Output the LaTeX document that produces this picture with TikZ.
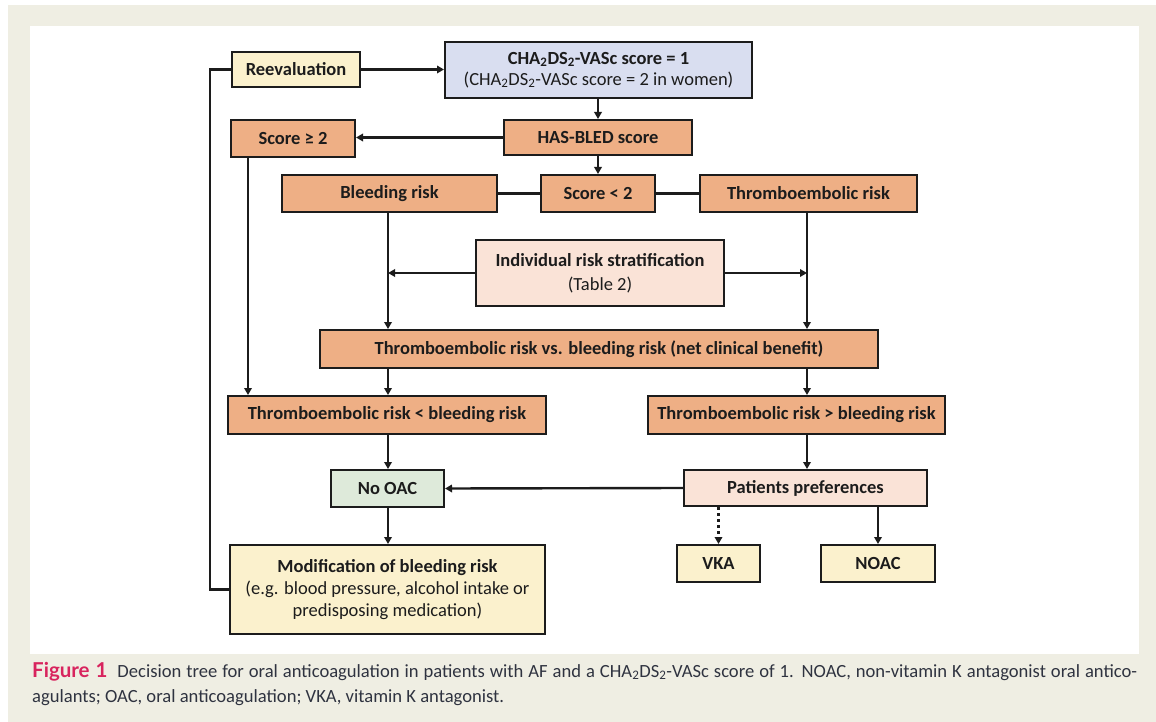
\documentclass[tikz,border=0pt]{standalone}
\usepackage{fontspec}
\setmainfont{Carlito}
\newfontfamily\capfont{Carlito}
\newfontfamily\figfont{Lato}
\usetikzlibrary{arrows.meta}
\definecolor{pagebg}{HTML}{EFEEE3}
\definecolor{orangebox}{HTML}{EEAF85}
\definecolor{yellowbox}{HTML}{FBF1CD}
\definecolor{bluebox}{HTML}{D9DEF0}
\definecolor{peachbox}{HTML}{FAE3D7}
\definecolor{greenbox}{HTML}{DEEADA}
\definecolor{inkdark}{HTML}{1C1C1C}
\definecolor{captext}{HTML}{2F3340}
\definecolor{capred}{HTML}{D8245E}
\begin{document}
\begin{tikzpicture}[x=1pt,y=-1pt,
  box/.style={draw=inkdark, line width=2pt, inner sep=0pt, align=center,
    font=\fontsize{18.5}{22}\selectfont\bfseries, text=inkdark},
  orange/.style={box, fill=orangebox},
  conn/.style={draw=inkdark, line width=2.4pt},
  arr/.style={conn, -{Triangle[length=7pt,width=7.5pt]}},
  dotarr/.style={arr, dash pattern=on 3pt off 3pt},
  captxt/.style={anchor=base west, inner sep=0pt, text=captext,
    font=\capfont\fontsize{18.6}{23}\selectfont}
]
% page and panel backgrounds
\fill[white] (0,0) rectangle (1156,722);
\fill[pagebg] (8,5) rectangle (1156,722);
\fill[white] (30,26) rectangle (1139,654);
\useasboundingbox (0,0) rectangle (1156,722);

% boxes
\node[box, fill=yellowbox, minimum width=128pt, minimum height=35pt] (reeval) at (296,69.5) {Reevaluation};
\node[box, fill=bluebox, minimum width=307pt, minimum height=56pt] (cha) at (598.5,70)
  {CHA\textsubscript{2}DS\textsubscript{2}-VASc score = 1\\[-1pt]
   \mdseries(CHA\textsubscript{2}DS\textsubscript{2}-VASc score = 2 in women)};
\node[orange, minimum width=188pt, minimum height=35pt] (hasbled) at (598,137.5) {HAS-BLED score};
\node[orange, minimum width=124pt, minimum height=37pt] (sge) at (293,138.5) {Score ≥ 2};
\node[orange, minimum width=114pt, minimum height=37pt] (slt) at (598,193.5) {Score < 2};
\node[orange, minimum width=215pt, minimum height=37pt] (bleed) at (389.5,193.5) {Bleeding risk};
\node[orange, minimum width=217pt, minimum height=37pt] (thrombo) at (808.5,193.5) {Thromboembolic risk};
\node[box, fill=peachbox, minimum width=248pt, minimum height=66pt] (indiv) at (600,273)
  {Individual risk stratification\\[2pt] \mdseries(Table 2)};
\node[orange, minimum width=558pt, minimum height=38pt] (net) at (599,349)
  {Thromboembolic risk vs. bleeding risk (net clinical benefit)};
\node[orange, minimum width=318pt, minimum height=38pt] (tlt) at (387,415)
  {Thromboembolic risk < bleeding risk};
\node[orange, minimum width=297pt, minimum height=38pt] (tgt) at (796.5,415)
  {Thromboembolic risk > bleeding risk};
\node[box, fill=greenbox, minimum width=113pt, minimum height=37pt] (nooac) at (387.5,488.5) {No OAC};
\node[box, fill=peachbox, minimum width=243pt, minimum height=36pt] (pref) at (805.5,488) {Patients preferences};
\node[box, fill=yellowbox, minimum width=315pt, minimum height=89pt] (modif) at (387.5,589.5)
  {Modification of bleeding risk\\[0pt]
   \mdseries(e.g. blood pressure, alcohol intake or\\[0pt]
   \mdseries predisposing medication)};
\node[box, fill=yellowbox, minimum width=83pt, minimum height=37pt] (vka) at (718.5,563.5) {VKA};
\node[box, fill=yellowbox, minimum width=114pt, minimum height=37pt] (noac) at (878,563.5) {NOAC};

% connectors
\draw[arr] (reeval.east) -- (cha.west |- reeval.east);
\draw[arr] (cha.south -| hasbled.north) -- (hasbled.north);
\draw[arr] (hasbled.west) -- (sge.east |- hasbled.west);
\draw[arr] (hasbled.south) -- (slt.north);
\draw[conn] (slt.west) -- (bleed.east);
\draw[conn] (slt.east) -- (thrombo.west);
\coordinate (bx) at (388,0);
\coordinate (tx) at (807,0);
\coordinate (sx) at (248,0);
\draw[arr] (bleed.south -| bx) -- (net.north -| bx);
\draw[arr] (thrombo.south -| tx) -- (net.north -| tx);
\draw[arr] (indiv.west) -- (indiv.west -| bx);
\draw[arr] (indiv.east) -- (indiv.east -| tx);
\draw[arr] (sge.south -| sx) -- (tlt.north -| sx);
\draw[arr] (net.south -| bx) -- (tlt.north -| bx);
\draw[arr] (net.south -| tx) -- (tgt.north -| tx);
\draw[arr] (tlt.south -| bx) -- (nooac.north -| bx);
\draw[arr] (tgt.south -| tx) -- (pref.north -| tx);
\draw[arr] (pref.west) -- (nooac.east);
\draw[arr] (nooac.south -| bx) -- (modif.north -| bx);
\draw[dotarr] (pref.south -| vka.north) -- (vka.north);
\draw[arr] (pref.south -| noac.north) -- (noac.north);
\coordinate (loopx) at (210,0);
\draw[conn] (modif.west) -| (loopx |- reeval.west) -- (reeval.west);

% caption, first line justified to the full measure
\node[captxt] (cap1) at (32,677)
  {\makebox[1105pt][s]{{\figfont\fontsize{20.5}{23}\selectfont\bfseries\color{capred}Figure 1}\hspace{10pt}Decision tree for oral anticoagulation in patients with AF and a CHA\textsubscript{2}DS\textsubscript{2}-VASc score of 1. NOAC, non-vitamin K antagonist oral antico-}};
\node[captxt] (cap2) at (32,702)
  {agulants; OAC, oral anticoagulation; VKA, vitamin K antagonist.};
\end{tikzpicture}
\end{document}
